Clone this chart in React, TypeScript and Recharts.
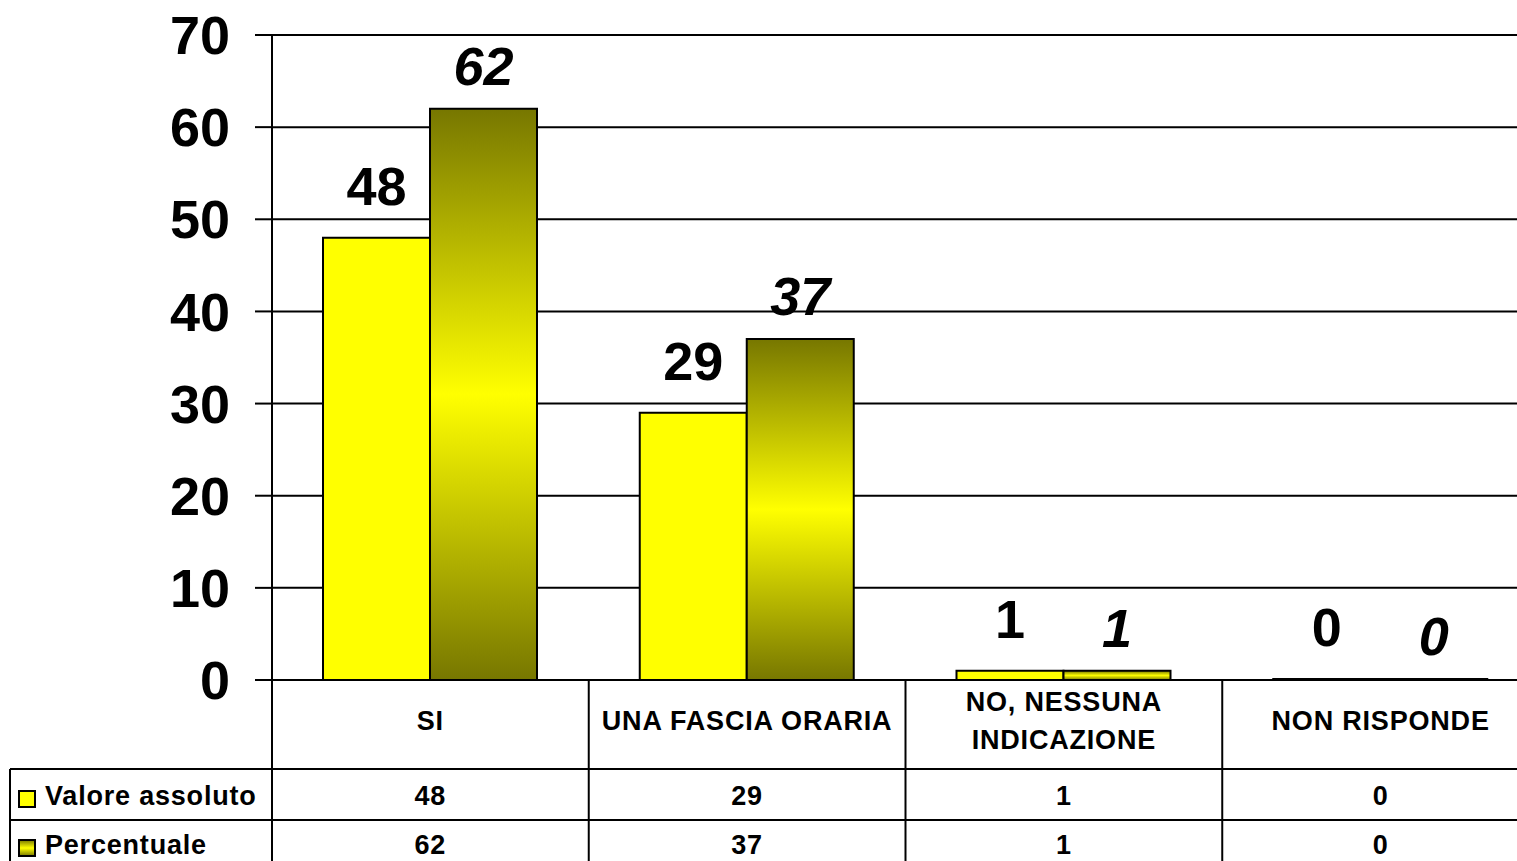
import { BarChart, Bar, XAxis, YAxis, CartesianGrid, LabelList } from "recharts";

const categories = ["SI", "UNA FASCIA ORARIA", "NO, NESSUNA INDICAZIONE", "NON RISPONDE"];
const valoreAssoluto = [48, 29, 1, 0];
const percentuale = [62, 37, 1, 0];
const seriesNames = ["Valore assoluto", "Percentuale"];
const yTicks = [0, 10, 20, 30, 40, 50, 60, 70];

const data = categories.map((name, i) => ({
  name,
  abs: valoreAssoluto[i],
  pct: percentuale[i]
}));

const FONT = "'Liberation Sans', Arial, sans-serif";
const CHART_W = 1560;
const CHART_H = 900;
const MARGIN = { top: 35, right: 21, left: 0, bottom: 0 };
const Y_W = 272;
const X_H = 220;
const CAT_W = (CHART_W - MARGIN.left - MARGIN.right - Y_W) / categories.length;
const LEGEND_LEFT = 10;
const HEADER_H = 89;
const ROW_H = 51;
const MAX_CHARS = 18;

const tableText = {
  fontFamily: FONT,
  fontWeight: 700,
  fontSize: 27,
  letterSpacing: 0.8,
  fill: "#000"
};

// greedy word wrap, the header cell holds about 18 characters
function wrapHeader(name: string) {
  const out: string[] = [];
  let cur = "";
  for (const w of name.split(" ")) {
    const next = cur ? cur + " " + w : w;
    if (next.length > MAX_CHARS && cur) {
      out.push(cur);
      cur = w;
    } else {
      cur = next;
    }
  }
  if (cur) out.push(cur);
  return out;
}

function TableTick(props: any) {
  const { x, y, index, payload } = props;
  const left = x - CAT_W / 2;
  const right = x + CAT_W / 2;
  const r1 = y + HEADER_H;
  const r2 = r1 + ROW_H;
  const lines = wrapHeader(String(payload.value));
  const hy = y + 41;
  return (
    <g>
      <line x1={left} y1={y} x2={left} y2={y + X_H} stroke="#000" strokeWidth={2} />
      <line x1={index === 0 ? LEGEND_LEFT : left} y1={r1} x2={right} y2={r1} stroke="#000" strokeWidth={2} />
      <line x1={index === 0 ? LEGEND_LEFT : left} y1={r2} x2={right} y2={r2} stroke="#000" strokeWidth={2} />
      {lines.map((ln, i) => (
        <text
          key={i}
          x={x}
          y={hy + (i - (lines.length - 1) / 2) * 38}
          textAnchor="middle"
          dominantBaseline="central"
          {...tableText}
        >
          {ln}
        </text>
      ))}
      <text x={x} y={r1 + 27} textAnchor="middle" dominantBaseline="central" {...tableText}>
        {valoreAssoluto[index]}
      </text>
      <text x={x} y={r2 + 25} textAnchor="middle" dominantBaseline="central" {...tableText}>
        {percentuale[index]}
      </text>
      {index === 0 && (
        <g>
          <line x1={LEGEND_LEFT} y1={r1} x2={LEGEND_LEFT} y2={y + X_H} stroke="#000" strokeWidth={2} />
          <rect x={LEGEND_LEFT + 9} y={r1 + 22} width={16} height={16} fill="#ffff00" stroke="#000" strokeWidth={2} />
          <text x={LEGEND_LEFT + 35} y={r1 + 27} dominantBaseline="central" {...tableText}>
            {seriesNames[0]}
          </text>
          <rect x={LEGEND_LEFT + 9} y={r2 + 20} width={16} height={16} fill="url(#oliveGrad)" stroke="#000" strokeWidth={2} />
          <text x={LEGEND_LEFT + 35} y={r2 + 25} dominantBaseline="central" {...tableText}>
            {seriesNames[1]}
          </text>
        </g>
      )}
    </g>
  );
}

function AbsLabel(props: any) {
  const { x, y, width, height, value } = props;
  const top = Math.min(y, y + height);
  return (
    <text
      x={x + width / 2}
      y={top - 52}
      textAnchor="middle"
      dominantBaseline="central"
      fontFamily={FONT}
      fontWeight={700}
      fontSize={54}
      fill="#000"
    >
      {value}
    </text>
  );
}

function PctLabel(props: any) {
  const { x, y, width, height, value } = props;
  const top = Math.min(y, y + height);
  return (
    <text
      x={x + width / 2}
      y={top - 43}
      textAnchor="middle"
      dominantBaseline="central"
      fontFamily={FONT}
      fontWeight={700}
      fontStyle="italic"
      fontSize={54}
      fill="#000"
    >
      {value}
    </text>
  );
}

export default function App() {
  return (
    <div
      style={{
        position: "fixed",
        left: 0,
        top: 0,
        width: 1517,
        height: 861,
        overflow: "hidden",
        background: "#fff"
      }}
    >
      <BarChart width={CHART_W} height={CHART_H} data={data} margin={MARGIN} barGap={0}>
        <defs>
          <linearGradient id="oliveGrad" x1="0" y1="0" x2="0" y2="1">
            <stop offset="0%" stopColor="#777700" />
            <stop offset="50%" stopColor="#ffff00" />
            <stop offset="100%" stopColor="#777700" />
          </linearGradient>
        </defs>
        <CartesianGrid vertical={false} stroke="#000" strokeWidth={2} />
        <YAxis
          domain={[0, 70]}
          ticks={yTicks}
          width={Y_W}
          tickSize={17}
          tickMargin={25}
          axisLine={{ stroke: "#000", strokeWidth: 2 }}
          tickLine={{ stroke: "#000", strokeWidth: 2 }}
          tick={{ fill: "#000", fontSize: 54, fontWeight: 700, fontFamily: FONT }}
        />
        <XAxis
          dataKey="name"
          height={X_H}
          interval={0}
          tickLine={false}
          tickSize={0}
          tickMargin={0}
          axisLine={{ stroke: "#000", strokeWidth: 2 }}
          tick={(p: any) => <TableTick {...p} />}
        />
        <Bar dataKey="abs" name={seriesNames[0]} barSize={107} minPointSize={1} fill="#ffff00" stroke="#000" strokeWidth={2} isAnimationActive={false}>
          <LabelList dataKey="abs" content={(p: any) => <AbsLabel {...p} />} />
        </Bar>
        <Bar dataKey="pct" name={seriesNames[1]} barSize={107} minPointSize={1} fill="url(#oliveGrad)" stroke="#000" strokeWidth={2} isAnimationActive={false}>
          <LabelList dataKey="pct" content={(p: any) => <PctLabel {...p} />} />
        </Bar>
      </BarChart>
    </div>
  );
}
